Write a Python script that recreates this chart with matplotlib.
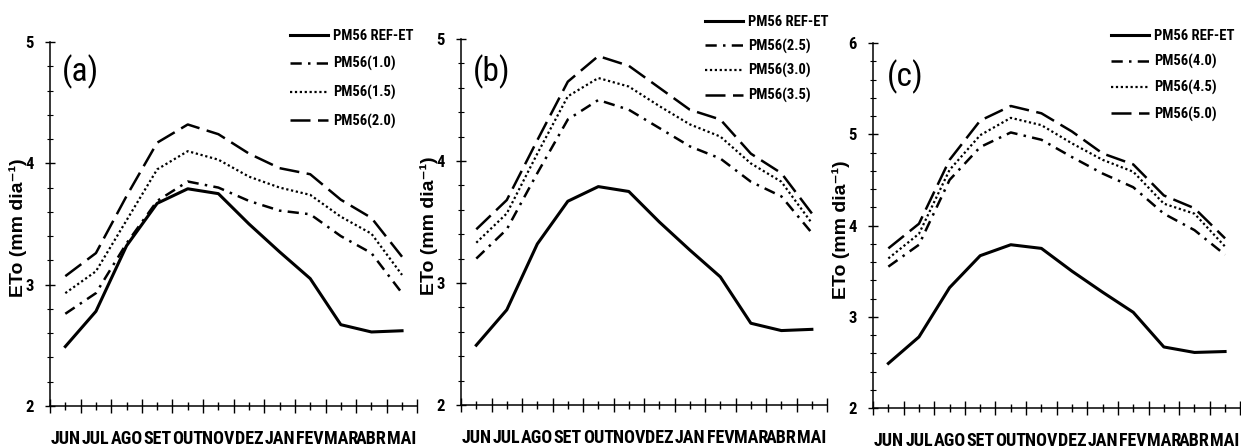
import matplotlib
matplotlib.use("Agg")
import matplotlib.pyplot as plt
from matplotlib.ticker import MultipleLocator

meses = ["JUN", "JUL", "AGO", "SET", "OUT", "NOV", "DEZ", "JAN", "FEV", "MAR", "ABR", "MAI"]

ref_et = [2.49, 2.78, 3.32, 3.67, 3.79, 3.75, 3.50, 3.27, 3.05, 2.67, 2.61, 2.62]

# (a)
pm_10 = [2.76, 2.93, 3.34, 3.69, 3.85, 3.80, 3.69, 3.61, 3.58, 3.40, 3.26, 2.93]
pm_15 = [2.93, 3.11, 3.53, 3.95, 4.10, 4.03, 3.89, 3.80, 3.74, 3.56, 3.42, 3.08]
pm_20 = [3.07, 3.26, 3.73, 4.17, 4.32, 4.24, 4.08, 3.96, 3.91, 3.70, 3.55, 3.23]
# (b)
pm_25 = [3.20, 3.44, 3.90, 4.34, 4.50, 4.42, 4.27, 4.12, 4.02, 3.83, 3.71, 3.41]
pm_30 = [3.33, 3.57, 4.06, 4.53, 4.68, 4.61, 4.45, 4.30, 4.20, 3.98, 3.83, 3.49]
pm_35 = [3.44, 3.68, 4.17, 4.65, 4.86, 4.78, 4.60, 4.42, 4.34, 4.06, 3.90, 3.57]
# (c)
pm_40 = [3.55, 3.79, 4.50, 4.86, 5.02, 4.94, 4.75, 4.57, 4.42, 4.13, 3.95, 3.68]
pm_45 = [3.64, 3.91, 4.61, 4.99, 5.18, 5.10, 4.90, 4.72, 4.59, 4.24, 4.13, 3.77]
pm_50 = [3.75, 4.02, 4.72, 5.15, 5.31, 5.23, 5.03, 4.79, 4.67, 4.33, 4.19, 3.86]

paineis = [
    ("(a)", [pm_10, pm_15, pm_20], ["PM56(1.0)", "PM56(1.5)", "PM56(2.0)"], 5),
    ("(b)", [pm_25, pm_30, pm_35], ["PM56(2.5)", "PM56(3.0)", "PM56(3.5)"], 5),
    ("(c)", [pm_40, pm_45, pm_50], ["PM56(4.0)", "PM56(4.5)", "PM56(5.0)"], 6),
]

# posicoes dos eixos (fracao da figura) e da legenda
caixas = [
    [0.0403, 0.0938, 0.296, 0.8125],
    [0.3715, 0.0960, 0.295, 0.8170],
    [0.7035, 0.0890, 0.296, 0.8150],
]
leg_pos = [(0.654, 1.036, 0.93), (0.667, 1.066, 0.67), (0.647, 1.039, 0.77)]
letra_pos = [(0.033, 0.918), (0.031, 0.91), (0.039, 0.907)]

narrow = ["Liberation Sans Narrow", "Roboto Condensed", "Noto Sans Condensed",
          "Open Sans Condensed", "DejaVu Sans Condensed", "Noto Sans", "DejaVu Sans"]
sans = ["Liberation Sans", "DejaVu Sans"]

fig = plt.figure(figsize=(12.41, 4.48), dpi=100)

x = list(range(len(meses)))
for i, (letra, series, nomes, ymax) in enumerate(paineis):
    ax = fig.add_axes(caixas[i])
    ax.plot(x, ref_et, color="black", lw=2.2, ls="-", label="PM56 REF-ET")
    ax.plot(x, series[0], color="black", lw=1.8, ls=(0, (4.5, 2.5, 1, 2.5)), label=nomes[0])
    ax.plot(x, series[1], color="black", lw=1.6, ls=(0, (1, 1.2)), label=nomes[1])
    ax.plot(x, series[2], color="black", lw=1.8, ls=(0, (8, 3)), label=nomes[2])

    ax.set_xlim(-0.5, 11.5)
    ax.set_ylim(2, ymax)
    ax.spines["top"].set_visible(False)
    ax.spines["right"].set_visible(False)
    for s in ["left", "bottom"]:
        ax.spines[s].set_linewidth(1.1)

    # rotulos nos meses (tick curto), traco longo entre os meses
    ax.set_xticks(x)
    ax.set_xticklabels(meses)
    ax.set_xticks([k - 0.5 for k in range(13)], minor=True)
    ax.yaxis.set_major_locator(MultipleLocator(1))
    ax.yaxis.set_minor_locator(MultipleLocator(0.2))
    ax.tick_params(axis="x", which="major", direction="inout", length=6, width=1.0, pad=14)
    ax.tick_params(axis="x", which="minor", direction="inout", length=10, width=1.0)
    ax.tick_params(axis="y", which="major", direction="inout", length=7, width=1.0, pad=8)
    ax.tick_params(axis="y", which="minor", direction="inout", length=4, width=0.8)
    for lb in ax.get_xticklabels():
        lb.set_fontfamily(narrow)
        lb.set_fontstretch("condensed")
        lb.set_fontweight("bold")
        lb.set_fontsize(13)
    for lb in ax.get_yticklabels():
        lb.set_fontfamily(narrow)
        lb.set_fontstretch("condensed")
        lb.set_fontweight("bold")
        lb.set_fontsize(12)

    ax.set_ylabel("ETo (mm dia⁻¹)", family=sans, fontweight="bold", fontsize=14)
    ax.yaxis.set_label_coords(-0.064, 0.49)

    ax.text(letra_pos[i][0], letra_pos[i][1], letra, transform=ax.transAxes,
            family=narrow, fontstretch="condensed", fontsize=24, ha="left", va="center")

    lx, ly, sp = leg_pos[i]
    leg = ax.legend(loc="upper left", bbox_to_anchor=(lx, ly), frameon=False,
                    handlelength=2.6, handletextpad=0.35, labelspacing=sp,
                    borderaxespad=0, borderpad=0,
                    prop={"family": narrow, "stretch": "condensed",
                          "weight": "bold", "size": 10.5})

fig.savefig("out.png", dpi=100)
